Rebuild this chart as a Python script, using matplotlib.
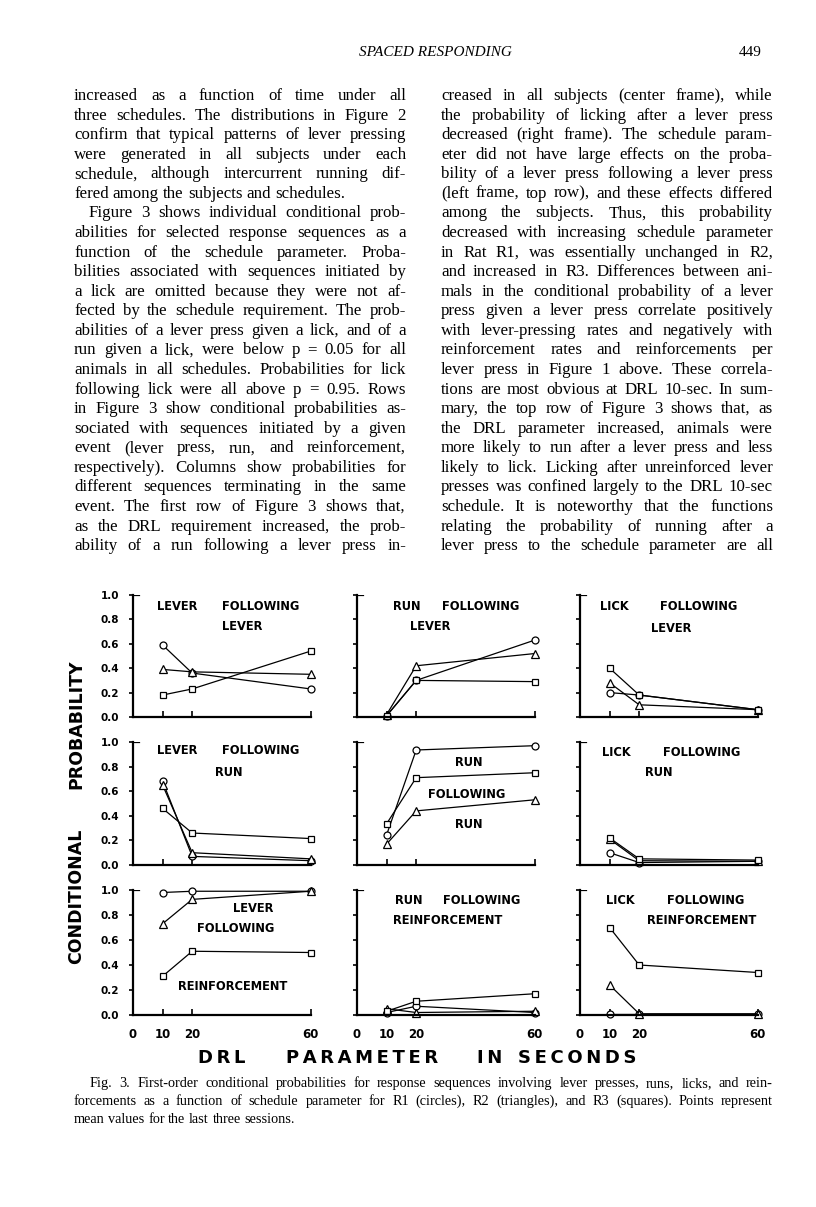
import numpy as np
import matplotlib
matplotlib.use("Agg")
import matplotlib.pyplot as plt

# page size in pixels (dpi 100)
W, H = 816, 1207

# ---- data: conditional probabilities, rows = R1 (circles), R2 (triangles), R3 (squares)
drl_sec = [10, 20, 60]
subjects = ["R1", "R2", "R3"]

lever_after_lever = [[0.59, 0.36, 0.23], [0.39, 0.37, 0.35], [0.18, 0.23, 0.54]]
run_after_lever = [[0.01, 0.30, 0.63], [0.02, 0.42, 0.52], [0.01, 0.30, 0.29]]
lick_after_lever = [[0.20, 0.18, 0.06], [0.28, 0.10, 0.06], [0.40, 0.18, 0.06]]
lever_after_run = [[0.68, 0.07, 0.035], [0.65, 0.10, 0.05], [0.46, 0.26, 0.215]]
run_after_run = [[0.245, 0.935, 0.97], [0.17, 0.44, 0.53], [0.335, 0.71, 0.75]]
lick_after_run = [[0.10, 0.02, 0.03], [0.21, 0.035, 0.03], [0.22, 0.05, 0.04]]
lever_after_reinf = [[0.98, 0.99, 0.99], [0.73, 0.925, 0.99], [0.31, 0.51, 0.50]]
run_after_reinf = [[0.02, 0.07, 0.02], [0.05, 0.02, 0.03], [0.03, 0.11, 0.17]]
lick_after_reinf = [[0.01, 0.01, 0.01], [0.24, 0.01, 0.01], [0.70, 0.40, 0.34]]

y_ticks = [0.0, 0.2, 0.4, 0.6, 0.8, 1.0]
y_tick_labels = ["0.0", "0.2", "0.4", "0.6", "0.8", "1.0"]
x_ticks = [0, 10, 20, 60]
x_tick_labels = ["0", "10", "20", "60"]

panels = [[lever_after_lever, run_after_lever, lick_after_lever],
          [lever_after_run, run_after_run, lick_after_run],
          [lever_after_reinf, run_after_reinf, lick_after_reinf]]

# ---- text content
header_title = "SPACED RESPONDING"
page_number = "449"

left_col = [
    "increased as a function of time under all",
    "three schedules. The distributions in Figure 2",
    "confirm that typical patterns of lever pressing",
    "were generated in all subjects under each",
    "schedule, although intercurrent running dif-",
    "fered among the subjects and schedules.",
    "Figure 3 shows individual conditional prob-",
    "abilities for selected response sequences as a",
    "function of the schedule parameter. Proba-",
    "bilities associated with sequences initiated by",
    "a lick are omitted because they were not af-",
    "fected by the schedule requirement. The prob-",
    "abilities of a lever press given a lick, and of a",
    "run given a lick, were below p = 0.05 for all",
    "animals in all schedules. Probabilities for lick",
    "following lick were all above p = 0.95. Rows",
    "in Figure 3 show conditional probabilities as-",
    "sociated with sequences initiated by a given",
    "event (lever press, run, and reinforcement,",
    "respectively). Columns show probabilities for",
    "different sequences terminating in the same",
    "event. The first row of Figure 3 shows that,",
    "as the DRL requirement increased, the prob-",
    "ability of a run following a lever press in-",
]
right_col = [
    "creased in all subjects (center frame), while",
    "the probability of licking after a lever press",
    "decreased (right frame). The schedule param-",
    "eter did not have large effects on the proba-",
    "bility of a lever press following a lever press",
    "(left frame, top row), and these effects differed",
    "among the subjects. Thus, this probability",
    "decreased with increasing schedule parameter",
    "in Rat R1, was essentially unchanged in R2,",
    "and increased in R3. Differences between ani-",
    "mals in the conditional probability of a lever",
    "press given a lever press correlate positively",
    "with lever-pressing rates and negatively with",
    "reinforcement rates and reinforcements per",
    "lever press in Figure 1 above. These correla-",
    "tions are most obvious at DRL 10-sec. In sum-",
    "mary, the top row of Figure 3 shows that, as",
    "the DRL parameter increased, animals were",
    "more likely to run after a lever press and less",
    "likely to lick. Licking after unreinforced lever",
    "presses was confined largely to the DRL 10-sec",
    "schedule. It is noteworthy that the functions",
    "relating the probability of running after a",
    "lever press to the schedule parameter are all",
]
caption = [
    "Fig. 3. First-order conditional probabilities for response sequences involving lever presses, runs, licks, and rein-",
    "forcements as a function of schedule parameter for R1 (circles), R2 (triangles), and R3 (squares). Points represent",
    "mean values for the last three sessions.",
]
panel_words = [
    [["LEVER", "FOLLOWING", "LEVER"], ["RUN", "FOLLOWING", "LEVER"], ["LICK", "FOLLOWING", "LEVER"]],
    [["LEVER", "FOLLOWING", "RUN"], ["RUN", "FOLLOWING", "RUN"], ["LICK", "FOLLOWING", "RUN"]],
    [["LEVER", "FOLLOWING", "REINFORCEMENT"], ["RUN", "FOLLOWING", "REINFORCEMENT"],
     ["LICK", "FOLLOWING", "REINFORCEMENT"]],
]
x_label_words = ["DRL", "PARAMETER", "IN", "SECONDS"]
y_label_words = ["CONDITIONAL", "PROBABILITY"]

# ---- layout (pixels)
COL_X0 = [133, 357, 580]
ROW_Y = [(595, 717), (742, 865), (890, 1015)]
PX_PER_SEC = 2.96
MARKERS = ["o", "^", "s"]
MSIZE = [5.0, 5.2, 4.6]
# left edge / centre y of each word inside panels
PANEL_WORD_POS = [
    [[(157, 606), (222, 606), (222, 626)], [(393, 606), (442, 606), (410, 626)],
     [(600, 607), (660, 607), (651, 628)]],
    [[(157, 751), (222, 751), (215, 772)], [(455, 762), (428, 795), (455, 824)],
     [(602, 753), (663, 753), (645, 772)]],
    [[(233, 909), (197, 929), (178, 986)], [(395, 900), (443, 900), (393, 920)],
     [(606, 900), (667, 900), (647, 920)]],
]
X_LABEL_POS = [222, 362, 490, 577]
Y_LABEL_POS = [896, 724]
TEXT_COLS = [(74, 406), (441, 773)]

fig = plt.figure(figsize=(W / 100, H / 100), dpi=100)
fig.patch.set_facecolor("white")
renderer = fig.canvas.get_renderer()

def fx(px): return px / W
def fy(py): return 1 - py / H

SANS = "DejaVu Sans"
SERIF = "Liberation Serif"

# ---- panels
for r in range(3):
    for c in range(3):
        ytop, ybot = ROW_Y[r]
        ax = fig.add_axes([fx(COL_X0[c]), fy(ybot), 62 * PX_PER_SEC / W, (ybot - ytop) / H])
        ax.set_facecolor("none")
        for k, vals in enumerate(panels[r][c]):
            ax.plot(drl_sec, vals, color="black", lw=0.9, marker=MARKERS[k], ms=MSIZE[k],
                    mfc="white", mec="black", mew=0.9, clip_on=False, label=subjects[k])
        ax.set_xlim(0, 62); ax.set_ylim(0, 1)
        for s in ["top", "right"]: ax.spines[s].set_visible(False)
        ax.spines["left"].set_bounds(0, 1); ax.spines["bottom"].set_bounds(0, 60)
        ax.spines["left"].set_linewidth(1.6); ax.spines["bottom"].set_linewidth(1.6)
        ax.axhline(1.0, xmin=0, xmax=0.03, color="black", lw=1.6)
        ax.set_yticks(y_ticks)
        ax.set_xticks(x_ticks)
        ax.tick_params(axis="y", direction="out", length=3, width=1.2, pad=7)
        ax.tick_params(axis="x", direction="in", length=4, width=1.2, pad=9)
        if c == 0:
            ax.set_yticklabels(y_tick_labels, fontsize=7.5, fontweight="bold", family=SANS)
        else:
            ax.set_yticklabels([])
        if r == 2:
            ax.set_xticklabels(x_tick_labels, fontsize=8.5, fontweight="bold", family=SANS)
        else:
            ax.set_xticklabels([])
        for word, (px, py) in zip(panel_words[r][c], PANEL_WORD_POS[r][c]):
            fig.text(fx(px), fy(py), word, ha="left", va="center", fontsize=8.3,
                     fontweight="bold", family=SANS)

# ---- axis titles
thin = "\u2009"
for word, px in zip(x_label_words, X_LABEL_POS):
    fig.text(fx(px), fy(1058), thin.join(word), ha="center", va="center", fontsize=13,
             fontweight="bold", family=SANS)
for word, py in zip(y_label_words, Y_LABEL_POS):
    fig.text(fx(76), fy(py), word, ha="center", va="center", rotation=90, fontsize=12.5,
             fontweight="bold", family=SANS)

# ---- justified text helper
def set_line(line, x_left, x_right, baseline, size, justify=True):
    words = line.split()
    texts = [fig.text(0, fy(baseline), w, ha="left", va="baseline", fontsize=size,
                      family=SERIF) for w in words]
    widths = [t.get_window_extent(renderer).width for t in texts]
    space = 0.25 * size * 100 / 72
    if justify and len(words) > 1:
        gap = (x_right - x_left - sum(widths)) / (len(words) - 1)
    else:
        gap = space
    x = x_left
    for t, w in zip(texts, widths):
        t.set_x(fx(x)); x += w + gap

BODY = 12.2
for i, line in enumerate(left_col):
    indent = 15 if i == 6 else 0
    set_line(line, TEXT_COLS[0][0] + indent, TEXT_COLS[0][1], 100 + i * 19.57, BODY,
             justify=(i != 5))
for i, line in enumerate(right_col):
    set_line(line, TEXT_COLS[1][0], TEXT_COLS[1][1], 100 + i * 19.57, BODY)

for i, line in enumerate(caption):
    indent = 16 if i == 0 else 0
    set_line(line, 74 + indent, 773, 1087 + i * 18, 10.3, justify=(i != 2))

fig.text(fx(435), fy(56), header_title, ha="center", va="baseline", fontsize=11,
         family=SERIF, style="italic")
fig.text(fx(762), fy(56), page_number, ha="right", va="baseline", fontsize=11, family=SERIF)

fig.savefig("out.png", dpi=100, facecolor="white")
